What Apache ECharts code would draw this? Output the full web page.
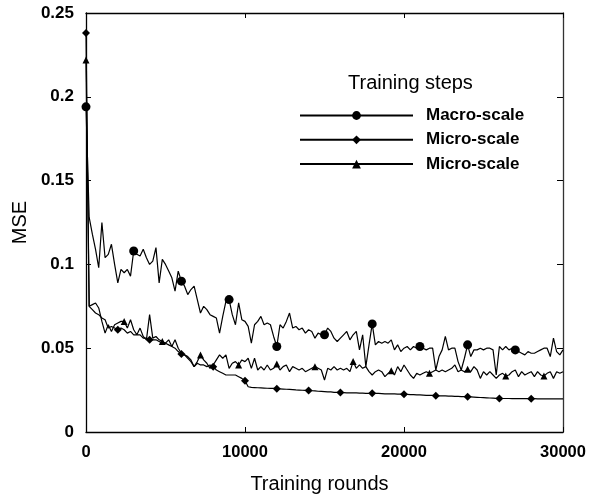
<!DOCTYPE html>
<html><head><meta charset="utf-8">
<script src="https://cdn.jsdelivr.net/npm/echarts@6/dist/echarts.min.js"></script>
<style>html,body{margin:0;padding:0;background:#fff}#c{width:589px;height:497px}</style>
</head><body><div id="c"></div>
<script>
// sampling step of the training-round axis
const roundStep = 200;
const xTicks = [0, 10000, 20000, 30000];
const yTicks = [0, 0.05, 0.1, 0.15, 0.2, 0.25];
const seriesNames = ['Macro-scale', 'Micro-scale', 'Micro-scale '];

const macroMSE = [
0.194,0.128,0.118,0.109,0.098,0.125,0.104,0.106,0.112,0.100,
0.089,0.097,0.095,0.097,0.093,0.108,0.106,0.105,0.109,0.104,
0.100,0.102,0.110,0.089,0.103,0.100,0.096,0.092,0.084,0.096,
0.090,0.087,0.082,0.085,0.087,0.079,0.071,0.075,0.073,0.070,
0.069,0.068,0.059,0.069,0.078,0.079,0.070,0.064,0.077,0.067,
0.066,0.063,0.053,0.064,0.066,0.069,0.064,0.065,0.064,0.057,
0.051,0.064,0.062,0.066,0.071,0.062,0.063,0.061,0.062,0.059,
0.061,0.060,0.056,0.059,0.058,0.058,0.062,0.060,0.056,0.054,
0.056,0.058,0.060,0.055,0.058,0.060,0.049,0.058,0.039,0.052,
0.0645,0.052,0.054,0.053,0.054,0.053,0.055,0.049,0.052,0.048,
0.050,0.051,0.049,0.051,0.050,0.051,0.050,0.049,0.050,0.050,
0.037,0.045,0.049,0.057,0.049,0.050,0.050,0.042,0.037,0.044,
0.052,0.045,0.049,0.049,0.050,0.049,0.050,0.050,0.049,0.034,
0.051,0.049,0.051,0.049,0.050,0.049,0.048,0.047,0.046,0.048,
0.047,0.047,0.048,0.049,0.050,0.050,0.045,0.056,0.048,0.046,
0.049];

const microDiamondMSE = [
0.238,0.075,0.073,0.071,0.070,0.068,0.067,0.062,0.063,0.062,
0.061,0.062,0.061,0.059,0.060,0.058,0.058,0.058,0.056,0.056,
0.055,0.055,0.055,0.054,0.053,0.053,0.052,0.051,0.050,0.048,
0.0465,0.046,0.045,0.043,0.039,0.041,0.040,0.040,0.039,0.040,
0.039,0.037,0.036,0.035,0.034,0.034,0.034,0.034,0.033,0.032,
0.0306,0.027,0.0266,0.0265,0.0264,0.0263,0.0262,0.0261,0.026,0.026,
0.0258,0.0257,0.0256,0.0255,0.0254,0.0253,0.0251,0.0250,0.0249,0.0248,
0.0247,0.0246,0.0245,0.0243,0.0242,0.0241,0.0240,0.0239,0.0237,0.0236,
0.0235,0.0235,0.0234,0.0234,0.0233,0.0233,0.0232,0.0232,0.0231,0.0231,
0.0231,0.0230,0.0230,0.0229,0.0228,0.0228,0.0227,0.0227,0.0226,0.0226,
0.0225,0.0224,0.0223,0.0223,0.0222,0.0221,0.0220,0.0219,0.0219,0.0218,
0.0217,0.0216,0.0216,0.0215,0.0214,0.0214,0.0213,0.0212,0.0211,0.0211,
0.0210,0.0209,0.0208,0.0207,0.0206,0.0205,0.0204,0.0203,0.0202,0.0201,
0.0200,0.0200,0.0200,0.0200,0.0199,0.0199,0.0199,0.0199,0.0199,0.0199,
0.0199,0.0199,0.0198,0.0198,0.0198,0.0198,0.0198,0.0198,0.0198,0.0198,
0.0198];

const microTriangleMSE = [
0.222,0.075,0.076,0.077,0.074,0.066,0.059,0.064,0.060,0.064,
0.065,0.066,0.066,0.062,0.067,0.061,0.058,0.062,0.057,0.055,
0.070,0.056,0.057,0.055,0.054,0.053,0.055,0.051,0.055,0.050,
0.047,0.046,0.044,0.042,0.039,0.042,0.046,0.043,0.041,0.038,
0.040,0.043,0.046,0.044,0.046,0.038,0.041,0.042,0.040,0.043,
0.042,0.044,0.038,0.044,0.037,0.039,0.037,0.040,0.037,0.038,
0.0405,0.037,0.039,0.040,0.036,0.039,0.038,0.037,0.038,0.036,
0.037,0.038,0.039,0.038,0.037,0.031,0.038,0.037,0.039,0.037,
0.038,0.037,0.038,0.036,0.042,0.038,0.040,0.038,0.039,0.036,
0.034,0.036,0.037,0.036,0.033,0.035,0.0366,0.034,0.039,0.036,
0.040,0.037,0.034,0.032,0.035,0.034,0.035,0.036,0.035,0.036,
0.037,0.036,0.037,0.036,0.037,0.038,0.040,0.036,0.037,0.036,
0.0374,0.036,0.039,0.037,0.032,0.036,0.034,0.036,0.034,0.032,
0.034,0.035,0.0334,0.034,0.036,0.037,0.033,0.036,0.034,0.035,
0.036,0.033,0.036,0.034,0.0334,0.035,0.036,0.032,0.036,0.035,
0.036];

const macroMarkerRounds = [0,3000,6000,9000,12000,15000,18000,21000,24000,27000];
const diamondMarkerRounds = [0,2000,4000,6000,8000,10000,12000,14000,16000,18000,20000,22000,24000,26000,28000];
const triangleMarkerRounds = [0,2400,4800,7200,9600,12000,14400,16800,19200,21600,24000,26400,28800];

function build(values, marks) {
  return values.map((v, i) => {
    const r = i * roundStep;
    return marks.indexOf(r) >= 0 ? { value: [r, v] } : { value: [r, v], symbol: 'none' };
  });
}

const FONT = '"Liberation Sans", Arial, sans-serif';
const chart = echarts.init(document.getElementById('c'), null, { renderer: 'canvas' });
const lineStyle = { color: '#000', width: 1.2 };
const axisLineStyle = { color: '#000', width: 1.3 };
const tickStyle = { show: true, inside: true, length: 5, lineStyle: { color: '#000', width: 1 } };

chart.setOption({
  animation: false,
  backgroundColor: '#fff',
  grid: { left: 86, right: 26, top: 13, bottom: 65, containLabel: false, outerBoundsMode: 'none' },
  title: {
    text: 'Training steps', left: 343, top: 68,
    textStyle: { fontFamily: FONT, fontSize: 20, fontWeight: 'normal', color: '#000' }
  },
  legend: {
    orient: 'vertical', left: 294, top: 102,
    itemWidth: 113, itemHeight: 11, itemGap: 7.3,
    data: seriesNames,
    textStyle: { fontFamily: FONT, fontSize: 17, fontWeight: 'bold', color: '#000', padding: [0, 0, 0, 8] },
    formatter: n => n.trim()
  },
  xAxis: [{
    type: 'value', min: 0, max: 30000, interval: 10000,
    name: 'Training rounds', nameLocation: 'middle', nameGap: 42,
    nameTextStyle: { fontFamily: FONT, fontSize: 20, color: '#000', padding: [0, 10, 0, 0] },
    axisLine: { show: true, onZero: false, lineStyle: axisLineStyle },
    axisTick: tickStyle,
    axisLabel: { fontFamily: FONT, fontSize: 16.5, fontWeight: 'bold', color: '#000', margin: 12,
      formatter: v => String(v) },
    splitLine: { show: false }
  }, {
    type: 'value', position: 'top', min: 0, max: 30000, interval: 10000,
    axisLine: { show: true, onZero: false, lineStyle: axisLineStyle },
    axisTick: tickStyle,
    axisLabel: { show: false }, splitLine: { show: false }
  }],
  yAxis: [{
    type: 'value', min: 0, max: 0.25, interval: 0.05,
    name: 'MSE', nameLocation: 'middle', nameGap: 42,
    nameTextStyle: { fontFamily: FONT, fontSize: 20, color: '#000' },
    axisLine: { show: true, onZero: false, lineStyle: axisLineStyle },
    axisTick: tickStyle,
    axisLabel: { fontFamily: FONT, fontSize: 17, fontWeight: 'bold', color: '#000', margin: 12,
      formatter: v => String(+v.toFixed(2)) },
    splitLine: { show: false }
  }, {
    type: 'value', position: 'right', min: 0, max: 0.25, interval: 0.05,
    axisLine: { show: true, onZero: false, lineStyle: { color: '#333', width: 1.3 } },
    axisTick: { show: true, inside: true, length: 6, lineStyle: { color: '#000', width: 1 } },
    axisLabel: { show: false }, splitLine: { show: false }
  }],
  series: [
    { name: seriesNames[0], type: 'line', data: build(macroMSE, macroMarkerRounds),
      symbol: 'circle', symbolSize: 9, showSymbol: true, lineStyle, itemStyle: { color: '#000' }, z: 3 },
    { name: seriesNames[1], type: 'line', data: build(microDiamondMSE, diamondMarkerRounds),
      symbol: 'diamond', symbolSize: 8, showSymbol: true, lineStyle, itemStyle: { color: '#000' }, z: 2 },
    { name: seriesNames[2], type: 'line', data: build(microTriangleMSE, triangleMarkerRounds),
      symbol: 'triangle', symbolSize: 7, showSymbol: true, lineStyle, itemStyle: { color: '#000' }, z: 2 }
  ]
});
</script></body></html>
